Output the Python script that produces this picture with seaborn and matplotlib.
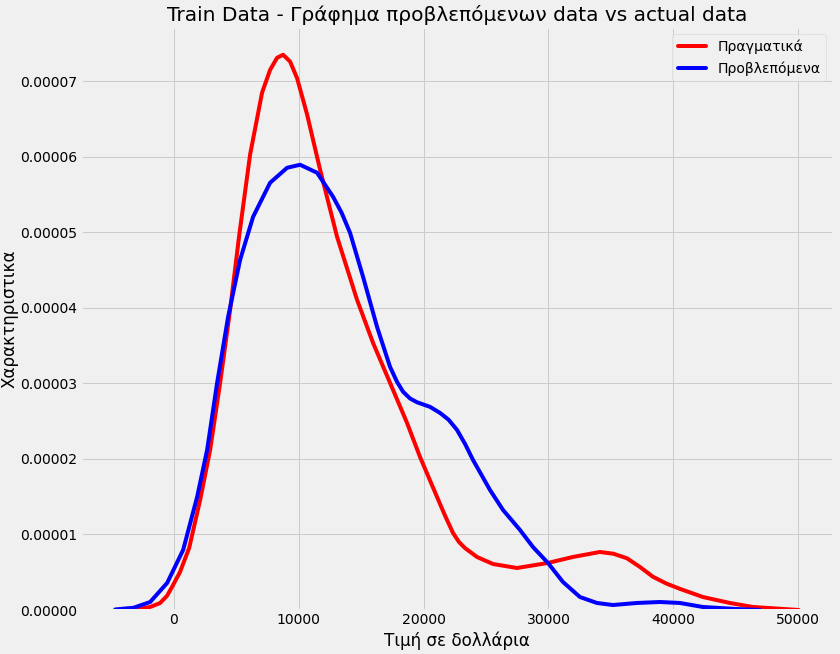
import numpy as np
import pandas as pd
import seaborn as sns
import matplotlib.pyplot as plt
from matplotlib.ticker import FormatStrFormatter

# Values (density in units of 1e-6)
actual_x = [-4680, -3480, -2600, -1880, -1080, -520, -80, 500, 1240, 2120,
            2920, 3720, 4520, 5240, 6120, 7080, 7720, 8280, 8760, 9320,
            9880, 10680, 11720, 13080, 14680, 15960, 17320, 18680, 19720, 21080,
            21720, 22360, 22840, 23320, 24280, 25560, 27480, 29960, 31960, 34120,
            35200, 36280, 37320, 38360, 39440, 40520, 42360, 44520, 46360, 50040]
actual_density = [0.0, 0.07, 0.20, 0.40, 0.93, 1.90, 3.20, 5.00, 8.20, 14.57,
                  21.19, 30.07, 39.74, 49.50, 60.30, 68.50, 71.50, 73.10, 73.50, 72.60,
                  70.40, 65.60, 58.30, 49.40, 41.06, 35.36, 30.07, 24.77, 20.26, 14.97,
                  12.50, 10.20, 9.00, 8.20, 7.02, 6.09, 5.56, 6.23, 7.02, 7.68,
                  7.45, 6.85, 5.70, 4.40, 3.50, 2.80, 1.72, 0.93, 0.40, 0.0]

predicted_x = [-4680, -3200, -1880, -520, 760, 1880, 2680, 3480, 4360, 5320,
               6360, 7720, 9080, 10120, 11480, 12760, 13440, 14120, 15160, 16280,
               17320, 17880, 18360, 18920, 19480, 20520, 21320, 22000, 22680, 23320,
               23960, 25320, 26360, 27720, 28760, 29960, 31160, 32520, 33880, 35160,
               37080, 38920, 40520, 42360, 45080, 46920]
predicted_density = [0.07, 0.30, 1.06, 3.58, 7.95, 14.97, 21.19, 30.07, 38.81, 46.36,
                     52.05, 56.56, 58.54, 58.94, 57.88, 54.70, 52.60, 49.93, 44.11, 37.48,
                     32.19, 30.20, 28.90, 28.00, 27.50, 26.89, 26.09, 25.20, 23.84, 22.00,
                     19.87, 15.89, 13.25, 10.60, 8.34, 6.23, 3.71, 1.72, 0.93, 0.66,
                     0.93, 1.06, 0.93, 0.40, 0.13, 0.0]

labels = ['Πραγματικά', 'Προβλεπόμενα']
colors = ['red', 'blue']

df = pd.concat([
    pd.DataFrame({'x': actual_x, 'y': np.array(actual_density) * 1e-6, 'series': labels[0]}),
    pd.DataFrame({'x': predicted_x, 'y': np.array(predicted_density) * 1e-6, 'series': labels[1]}),
], ignore_index=True)

plt.style.use('fivethirtyeight')
plt.rcParams['font.family'] = ['DejaVu Sans']

fig = plt.figure(figsize=(840 / 72, 654 / 72), dpi=72)
ax = fig.add_axes([81 / 840, 44 / 654, 752 / 840, 583 / 654])

sns.lineplot(data=df, x='x', y='y', hue='series', hue_order=labels,
             palette=dict(zip(labels, colors)), estimator=None, linewidth=4,
             solid_joinstyle='round', solid_capstyle='round', ax=ax)

ax.set_ylim(bottom=0)
ax.yaxis.set_major_formatter(FormatStrFormatter('%.5f'))
ax.set_xticks([0, 10000, 20000, 30000, 40000, 50000])

ax.set_title('Train Data - Γράφημα προβλεπόμενων data vs actual data')
ax.set_xlabel('Τιμή σε δολλάρια')
ax.set_ylabel('Χαρακτηριστικα', labelpad=2)

leg = ax.legend(loc='upper right')
for line in leg.get_lines():
    line.set_linewidth(4)

fig.savefig('out.png', dpi=72)
